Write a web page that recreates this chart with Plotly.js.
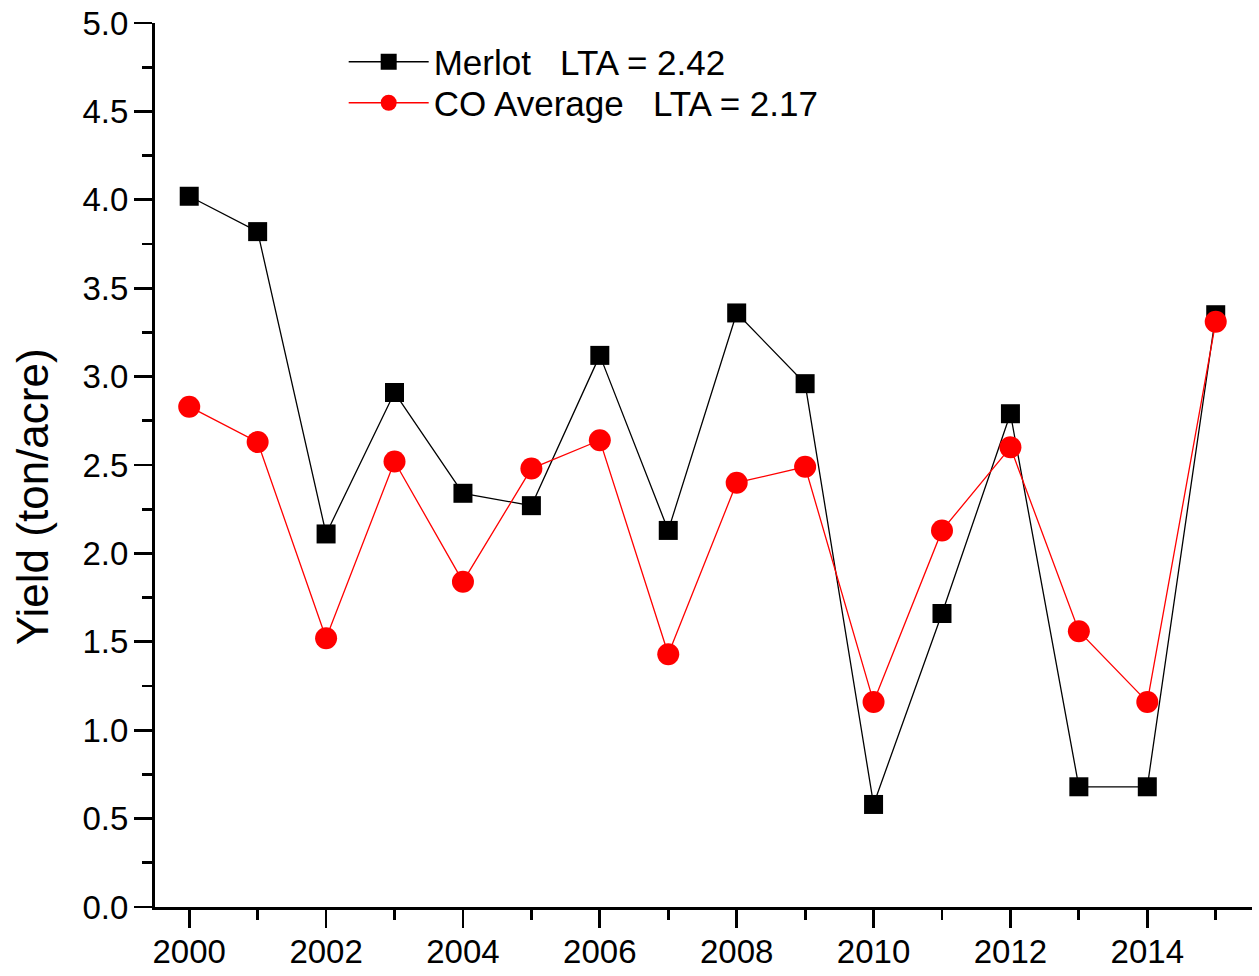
<!DOCTYPE html>
<html>
<head>
<meta charset="utf-8">
<script src="https://cdn.plot.ly/plotly-3.0.1.min.js"></script>
<style>
  html, body { margin: 0; padding: 0; background: #fff; }
  #chart { width: 1259px; height: 976px; }
</style>
</head>
<body>
<div id="chart"></div>
<script>
const years = [2000, 2001, 2002, 2003, 2004, 2005, 2006, 2007, 2008, 2009, 2010, 2011, 2012, 2013, 2014, 2015];
const merlot = [4.02, 3.82, 2.11, 2.91, 2.34, 2.27, 3.12, 2.13, 3.36, 2.96, 0.58, 1.66, 2.79, 0.68, 0.68, 3.35];
const coAverage = [2.83, 2.63, 1.52, 2.52, 1.84, 2.48, 2.64, 1.43, 2.40, 2.49, 1.16, 2.13, 2.60, 1.56, 1.16, 3.31];
const merlotName = 'Merlot\u00a0\u00a0\u00a0LTA = 2.42';
const coName = 'CO Average\u00a0\u00a0\u00a0LTA = 2.17';
const yTitle = 'Yield (ton/acre)';

const FONT = 'Liberation Sans, Arial, Helvetica, sans-serif';

const traces = [
  {
    x: years, y: merlot, name: merlotName, type: 'scatter', mode: 'lines+markers',
    legend: 'legend',
    line: {color: '#000000', width: 1.3},
    marker: {symbol: 'square', size: 19, color: '#000000'}
  },
  {
    x: years, y: coAverage, name: coName, type: 'scatter', mode: 'lines+markers',
    legend: 'legend2',
    line: {color: '#ff0000', width: 1.3},
    marker: {symbol: 'circle', size: 22, color: '#ff0000'}
  }
];

const legendBase = {
  xanchor: 'left', yanchor: 'middle',
  bgcolor: 'rgba(0,0,0,0)', borderwidth: 0,
  font: {family: FONT, size: 35, color: '#000000'},
  itemwidth: 80
};

const layout = {
  width: 1259, height: 976,
  margin: {l: 155, r: 7, t: 23, b: 69},
  paper_bgcolor: '#ffffff', plot_bgcolor: '#ffffff',
  font: {family: FONT, size: 33, color: '#000000'},
  showlegend: true,
  legend: Object.assign({}, legendBase, {x: 0.172, y: 0.9559}),
  legend2: Object.assign({}, legendBase, {x: 0.172, y: 0.9095}),
  xaxis: {
    range: [1999.5, 2015.53], tick0: 2000, dtick: 2,
    showgrid: false, zeroline: false,
    showline: true, linecolor: '#000000', linewidth: 3,
    ticks: 'outside', ticklen: 18, tickwidth: 2.8, tickcolor: '#000000',
    tickfont: {family: FONT, size: 33, color: '#000000'},
    ticklabelstandoff: -5,
    minor: {dtick: 1, ticks: 'outside', ticklen: 10, tickwidth: 2.8, tickcolor: '#000000', showgrid: false},
    fixedrange: true
  },
  yaxis: {
    range: [0, 5], tick0: 0, dtick: 0.5, tickformat: '.1f',
    showgrid: false, zeroline: false,
    showline: true, linecolor: '#000000', linewidth: 3,
    ticks: 'outside', ticklen: 18, tickwidth: 2.8, tickcolor: '#000000',
    tickfont: {family: FONT, size: 33, color: '#000000'},
    ticklabelstandoff: -1,
    minor: {dtick: 0.25, ticks: 'outside', ticklen: 10, tickwidth: 2.8, tickcolor: '#000000', showgrid: false},
    fixedrange: true
  },
  annotations: [
    {
      text: yTitle, xref: 'paper', yref: 'paper',
      x: -0.112, y: 0.4638, xanchor: 'center', yanchor: 'middle',
      textangle: -90, showarrow: false,
      font: {family: FONT, size: 44, color: '#000000'}
    }
  ]
};

Plotly.newPlot('chart', traces, layout, {displayModeBar: false, staticPlot: true});
</script>
</body>
</html>
